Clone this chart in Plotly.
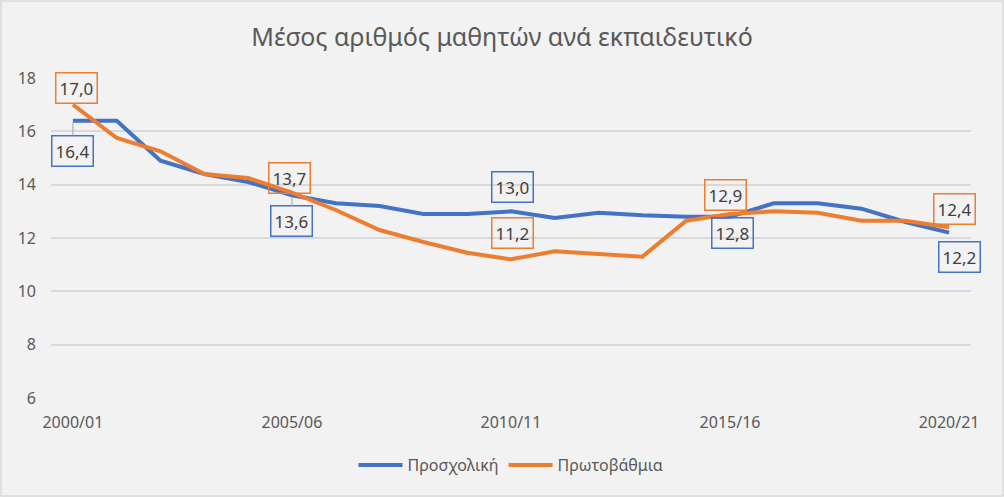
import plotly.graph_objects as go

categories = ["2000/01", "2001/02", "2002/03", "2003/04", "2004/05", "2005/06", "2006/07",
              "2007/08", "2008/09", "2009/10", "2010/11", "2011/12", "2012/13", "2013/14",
              "2014/15", "2015/16", "2016/17", "2017/18", "2018/19", "2019/20", "2020/21"]
preschool = [16.4, 16.4, 14.9, 14.4, 14.1, 13.6, 13.3, 13.2, 12.9, 12.9, 13.0, 12.75, 12.95,
             12.85, 12.8, 12.8, 13.3, 13.3, 13.1, 12.6, 12.2]
primary = [17.0, 15.75, 15.25, 14.4, 14.25, 13.7, 13.05, 12.3, 11.85, 11.45, 11.2, 11.5, 11.4,
           11.3, 12.65, 12.9, 13.0, 12.95, 12.65, 12.65, 12.4]
tick_idx = [0, 5, 10, 15, 20]
tick_labels = [categories[i] for i in tick_idx]
y_ticks = [6, 8, 10, 12, 14, 16, 18]

BLUE = "#4472c4"
ORANGE = "#ed7d31"
FONT = "Noto Sans"
x = list(range(len(categories)))

fig = go.Figure()
fig.add_trace(go.Scatter(x=x, y=preschool, mode="lines", name="Προσχολική",
                         line=dict(color=BLUE, width=4), hoverinfo="skip"))
fig.add_trace(go.Scatter(x=x, y=primary, mode="lines", name="Πρωτοβάθμια",
                         line=dict(color=ORANGE, width=4), hoverinfo="skip"))

def fmt(v):
    return f"{v:.1f}".replace(".", ",")

# (series values, index, color, xshift, yshift, leader)
labels = [
    (primary, 0, ORANGE, 4, 17, False),
    (preschool, 0, BLUE, 0, -30, True),
    (primary, 5, ORANGE, -2, 15, False),
    (preschool, 5, BLUE, 0, -26, True),
    (preschool, 10, BLUE, 1, 24, False),
    (primary, 10, ORANGE, 1, 26, False),
    (primary, 15, ORANGE, -5, 19, False),
    (preschool, 15, BLUE, 2, -16, False),
    (primary, 20, ORANGE, 5, 18, False),
    (preschool, 20, BLUE, 10, -24, False),
]
for series, i, col, xs, ys, leader in labels:
    common = dict(x=x[i], y=series[i], xref="x", yref="y", text=fmt(series[i]),
                  font=dict(family=FONT, size=17, color="#404040"),
                  bordercolor=col, borderwidth=1.5, borderpad=3)
    if leader:
        fig.add_annotation(**common, showarrow=True, arrowhead=0, arrowwidth=1,
                           arrowcolor="#a6a6a6", ax=xs, ay=-ys, standoff=2)
    else:
        fig.add_annotation(**common, showarrow=False, xshift=xs, yshift=ys)

W, H = 1004, 497
ml, mr, mt, mb = 51, 33, 78, 99
pw, ph = W - ml - mr, H - mt - mb
fig.add_shape(type="rect", xref="paper", yref="paper",
              x0=(1 - ml) / pw, x1=(W - 1 - ml) / pw,
              y0=(H - mb - (H - 1)) / ph, y1=(H - mb - 1) / ph,
              line=dict(color="#d9d9d9", width=1.5), layer="below")

fig.update_layout(
    width=W, height=H,
    margin=dict(l=ml, r=mr, t=mt, b=mb),
    paper_bgcolor="#f2f2f2", plot_bgcolor="#f2f2f2",
    font=dict(family=FONT, color="#595959", size=16),
    title=dict(text="Μέσος αριθμός μαθητών ανά εκπαιδευτικό", x=0.5, xanchor="center",
               y=1 - 37 / H, yanchor="middle",
               font=dict(family=FONT, size=25, color="#595959")),
    showlegend=True,
    legend=dict(orientation="h", x=0.5, xanchor="center", y=(H - mb - 465) / ph,
                yanchor="middle", font=dict(family=FONT, size=16, color="#595959"),
                bgcolor="rgba(0,0,0,0)", itemwidth=44, traceorder="normal"),
    xaxis=dict(range=[-0.5, len(categories) - 0.5], tickmode="array", tickvals=tick_idx,
               ticktext=tick_labels, showgrid=False, zeroline=False, showline=False,
               ticks="", ticklabelstandoff=13, tickfont=dict(size=16, color="#595959")),
    yaxis=dict(range=[6, 18], tickmode="array", tickvals=y_ticks, showgrid=True,
               gridcolor="#d9d9d9", gridwidth=1.5, zeroline=False, showline=False,
               ticks="", ticklabelstandoff=14, tickfont=dict(size=16, color="#595959")),
)
fig.write_html("out.html")
